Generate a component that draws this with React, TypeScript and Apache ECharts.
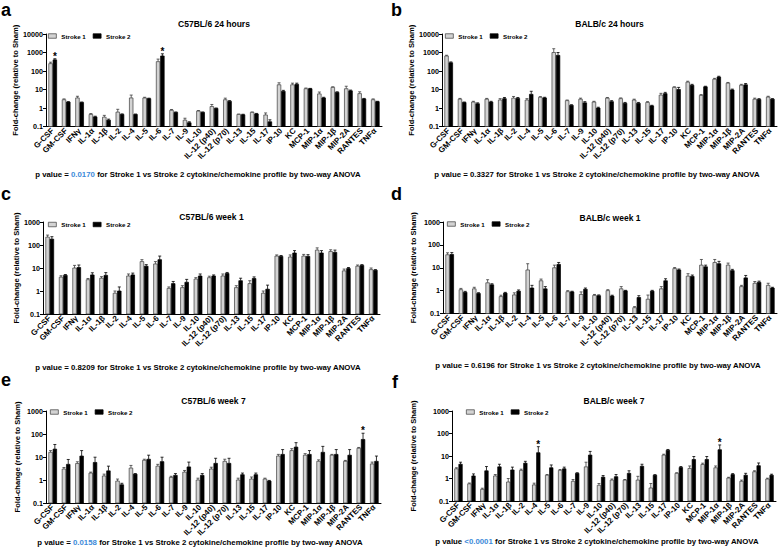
import React, { useEffect, useRef } from 'react';
import * as echarts from 'echarts';

const categories = ['G-CSF', 'GM-CSF', 'IFNγ', 'IL-1α', 'IL-1β', 'IL-2', 'IL-4', 'IL-5', 'IL-6', 'IL-7', 'IL-9', 'IL-10', 'IL-12 (p40)', 'IL-12 (p70)', 'IL-13', 'IL-15', 'IL-17', 'IP-10', 'KC', 'MCP-1', 'MIP-1α', 'MIP-1β', 'MIP-2A', 'RANTES', 'TNFα'];
const seriesNames = ['Stroke 1', 'Stroke 2'];
const panelTitles = ['C57BL/6 24 hours', 'BALB/c 24 hours', 'C57BL/6 week 1', 'BALB/c week 1', 'C57BL/6 week 7', 'BALB/c week 7'];
const panelLetters = ['a', 'b', 'c', 'd', 'e', 'f'];
const pPrefix = ['p value = ', 'p value = ', 'p value = ', 'p value = ', 'p value = ', 'p value '];
const pValues = ['0.0170', '0.3327', '0.8209', '0.6196', '0.0158', '<0.0001'];
const pSignificant = [true, false, false, false, true, true];
const yAxisMax = [10000, 10000, 1000, 1000, 1000, 1000];
const yAxisMin = 0.1;
const yAxisName = 'Fold-change (relative to Sham)';

// a: C57BL/6 24 hours
const aStroke1 = [250, 2.8, 3.5, 0.45, 0.32, 0.6, 3.5, 3.5, 320, 0.75, 0.22, 0.68, 1.2, 2.8, 0.45, 0.58, 0.42, 18, 18, 11, 5.8, 13, 11, 6, 2.8];
const aStroke1Err = [50, 0.3, 0.8, 0.05, 0.08, 0.25, 1.5, 0.3, 120, 0.08, 0.06, 0.05, 0.35, 0.6, 0.02, 0.03, 0.12, 5, 4, 1, 1.5, 1, 4, 1.5, 0.3];
const aStroke2 = [400, 2.1, 2.0, 0.33, 0.22, 0.45, 0.45, 3.2, 650, 0.58, 0.16, 0.58, 0.95, 2.3, 0.43, 0.48, 0.18, 8, 19, 11, 3.5, 7, 8.5, 3.1, 2.2];
const aStroke2Err = [60, 0.1, 0.1, 0.03, 0.03, 0.03, 0.02, 0.2, 200, 0.03, 0.02, 0.03, 0.05, 0.2, 0.03, 0.03, 0.05, 1, 3, 0.5, 0.3, 0.5, 0.8, 0.2, 0.1];
const aStroke2Stars = ['G-CSF', 'IL-6'];

// b: BALB/c 24 hours
const bStroke1 = [650, 3.0, 2.1, 3.0, 2.7, 3.4, 2.7, 3.8, 1000, 2.5, 3.0, 2.1, 3.4, 3.2, 2.7, 2.0, 5.0, 13, 25, 4.8, 36, 22, 17, 3.0, 3.9];
const bStroke1Err = [60, 0.3, 0.2, 0.3, 0.5, 0.8, 0.5, 0.3, 600, 0.2, 0.4, 0.2, 0.3, 0.3, 0.3, 0.2, 1.2, 1, 3, 0.5, 4, 2, 2, 0.4, 0.4];
const bStroke2 = [280, 2.0, 1.7, 2.1, 3.2, 3.3, 5.5, 3.5, 700, 1.4, 1.9, 1.0, 2.2, 1.8, 1.8, 1.3, 6.0, 10, 17, 14, 47, 9.5, 18, 2.9, 3.0];
const bStroke2Err = [30, 0.1, 0.2, 0.2, 0.5, 0.4, 2.5, 0.3, 300, 0.1, 0.3, 0.1, 0.3, 0.2, 0.2, 0.1, 1, 3, 2, 1, 5, 1, 3, 0.3, 0.2];
const bStroke2Stars: string[] = [];

// c: C57BL/6 week 1
const cStroke1 = [220, 4.0, 10, 3.1, 3.6, 0.8, 4.5, 19, 15, 1.3, 1.4, 3.3, 3.8, 4.5, 1.4, 2.1, 0.8, 33, 30, 33, 60, 52, 7.5, 12, 8.5];
const cStroke1Err = [50, 0.6, 3, 0.4, 0.6, 0.2, 1, 4, 4, 0.2, 0.3, 0.5, 0.6, 1, 0.3, 0.7, 0.2, 4, 7, 6, 15, 10, 1.5, 1.5, 1.5];
const cStroke2 = [180, 4.8, 10.5, 5.0, 4.8, 1.0, 5.0, 12, 23, 2.1, 2.4, 4.5, 4.5, 5.8, 2.8, 3.5, 1.2, 32, 45, 32, 45, 48, 9.5, 13, 8.0];
const cStroke2Err = [50, 0.4, 3, 1.2, 1.5, 0.5, 1, 2, 10, 0.5, 0.8, 1, 0.5, 0.6, 0.8, 0.6, 0.6, 3, 12, 6, 12, 12, 1, 1, 0.5];
const cStroke2Stars: string[] = [];

// d: BALB/c week 1
const dStroke1 = [37, 1.1, 1.2, 2.2, 0.55, 0.65, 8.0, 2.7, 10, 0.9, 0.68, 0.62, 1.0, 1.2, 0.18, 0.42, 1.2, 9.2, 4.3, 13, 17, 13, 1.5, 2.1, 1.7];
const dStroke1Err = [8, 0.15, 0.2, 0.8, 0.08, 0.15, 7, 0.5, 3, 0.1, 0.2, 0.06, 0.1, 0.3, 0.02, 0.22, 0.3, 1, 1.2, 10, 6, 3, 0.2, 0.4, 0.4];
const dStroke2 = [38, 0.85, 0.75, 1.8, 0.78, 0.95, 1.3, 1.2, 14, 0.88, 1.15, 0.6, 0.58, 0.98, 0.5, 0.95, 2.7, 8.0, 4.2, 11, 15, 7.5, 3.6, 2.3, 1.3];
const dStroke2Err = [8, 0.08, 0.06, 0.2, 0.06, 0.12, 0.4, 0.3, 3, 0.06, 0.15, 0.05, 0.05, 0.05, 0.1, 0.08, 0.6, 0.8, 0.6, 2, 4, 1, 1, 0.3, 0.1];
const dStroke2Stars: string[] = [];

// e: C57BL/6 week 7
const eStroke1 = [16, 3.0, 5.2, 2.0, 1.5, 0.9, 3.3, 7.2, 4.0, 1.3, 2.2, 1.0, 3.0, 6.5, 1.0, 1.1, 1.1, 11, 19, 12, 6.5, 12, 6.5, 24, 5.0];
const eStroke1Err = [3, 0.5, 1, 0.2, 0.3, 0.2, 1, 0.8, 0.8, 0.15, 0.4, 0.2, 0.6, 1.5, 0.2, 0.25, 0.1, 2, 4, 2, 1, 1, 0.6, 2, 1];
const eStroke2 = [22, 4.8, 11, 5.8, 2.5, 0.62, 1.8, 8.0, 6.3, 1.6, 3.7, 1.6, 5.3, 5.3, 1.7, 1.7, 0.9, 13, 27, 13, 16, 13, 12, 58, 6.5];
const eStroke2Err = [13, 3, 8, 4, 1.5, 0.1, 0.1, 4, 3.5, 0.3, 2.3, 0.3, 3.5, 3.5, 0.3, 0.3, 0.06, 8, 15, 6, 13, 8, 9, 50, 4.5];
const eStroke2Stars = ['RANTES'];

// f: BALB/c week 7
const fStroke1 = [2.7, 0.58, 0.33, 1.3, 0.7, 2.3, 0.52, 1.4, 2.3, 0.75, 3.3, 0.5, 0.85, 0.85, 0.85, 0.38, 11, 1.7, 2.8, 4.2, 3.0, 1.05, 0.75, 2.0, 0.95];
const fStroke1Err = [0.3, 0.05, 0.04, 0.2, 0.3, 0.3, 0.1, 0.1, 0.2, 0.15, 2, 0.1, 0.1, 0.05, 0.4, 0.22, 1, 0.1, 0.8, 0.6, 0.6, 0.08, 0.1, 0.2, 0.08];
const fStroke2 = [4.3, 1.3, 2.2, 3.3, 2.4, 4.8, 14, 3.0, 2.7, 1.7, 11, 1.15, 1.2, 1.7, 3.5, 1.4, 18, 3.1, 7.0, 7.0, 19, 1.5, 1.4, 3.7, 1.4];
const fStroke2Err = [1, 0.3, 1.2, 1, 0.8, 1, 12, 1, 0.5, 0.1, 5, 0.2, 0.3, 0.5, 0.8, 0.08, 1.5, 0.3, 2.5, 2.5, 12, 0.15, 0.3, 1.2, 0.15];
const fStroke2Stars = ['IL-4', 'MIP-1α'];

const panels = [
  { s1: aStroke1, e1: aStroke1Err, s2: aStroke2, e2: aStroke2Err, stars2: aStroke2Stars },
  { s1: bStroke1, e1: bStroke1Err, s2: bStroke2, e2: bStroke2Err, stars2: bStroke2Stars },
  { s1: cStroke1, e1: cStroke1Err, s2: cStroke2, e2: cStroke2Err, stars2: cStroke2Stars },
  { s1: dStroke1, e1: dStroke1Err, s2: dStroke2, e2: dStroke2Err, stars2: dStroke2Stars },
  { s1: eStroke1, e1: eStroke1Err, s2: eStroke2, e2: eStroke2Err, stars2: eStroke2Stars },
  { s1: fStroke1, e1: fStroke1Err, s2: fStroke2, e2: fStroke2Err, stars2: fStroke2Stars },
];

// layout (pixels)
const FONT = '"Liberation Sans", Arial, Helvetica, sans-serif';
const gridBoxes = [
  { left: 46, top: 34, right: 382, bottom: 126.5 },
  { left: 442, top: 34, right: 777, bottom: 126.5 },
  { left: 43, top: 222, right: 380, bottom: 314 },
  { left: 443, top: 222, right: 777, bottom: 313.5 },
  { left: 46, top: 411, right: 381, bottom: 503 },
  { left: 452, top: 411, right: 776, bottom: 501 },
];
const nameGaps = [26, 23.5, 23, 25.5, 24.5, 34.5];
const letterPos = [[1, 9.6], [391, 9.6], [1, 194], [391, 194], [1, 380], [392, 382]];
const titleY = [24, 24, 217, 218, 401, 401];
const pPos = [[198, 174], [597, 174], [198, 367], [598, 365], [200, 542], [597, 541]];
const legendPos = [[48, 33], [445, 33], [48, 221.5], [447, 221], [50, 409], [466, 409]];

const S1_FILL = '#d3d3d3';
const S1_STROKE = '#3c3c3c';
const S2_FILL = '#000000';
const S2_STROKE = '#000000';

function makeRender(s: number) {
  return (params: any, api: any) => {
    const i = api.value(0);
    const v = api.value(1);
    const e = api.value(2);
    const star = api.value(3);
    const p0 = api.coord([i, v]);
    const pb = api.coord([i, yAxisMin]);
    const pe = api.coord([i, v + e]);
    const w = api.coord([1, 1])[0] - api.coord([0, 1])[0];
    const bw = w * 0.32;
    const x0 = p0[0] - (s === 0 ? bw : 0);
    const cx = x0 + bw / 2;
    const cap = bw * 0.35;
    const fill = s === 0 ? S1_FILL : S2_FILL;
    const stroke = s === 0 ? S1_STROKE : S2_STROKE;
    const children: any[] = [
      { type: 'line', shape: { x1: cx, y1: p0[1], x2: cx, y2: pe[1] }, style: { stroke, lineWidth: 0.8 } },
      { type: 'line', shape: { x1: cx - cap, y1: pe[1], x2: cx + cap, y2: pe[1] }, style: { stroke, lineWidth: 0.8 } },
      { type: 'rect', shape: { x: x0 + 0.35, y: p0[1], width: bw - 0.7, height: pb[1] - p0[1] }, style: { fill, stroke, lineWidth: 0.7 } },
    ];
    if (star) {
      children.push({
        type: 'text',
        style: {
          text: '*', x: cx, y: pe[1] + 2.5,
          align: 'center', textAlign: 'center', verticalAlign: 'bottom', textVerticalAlign: 'bottom',
          fontSize: 10, fontWeight: 'bold', fontFamily: FONT, fill: '#000',
        },
      });
    }
    return { type: 'group', children };
  };
}

function buildOption() {
  const grid: any[] = [];
  const xAxis: any[] = [];
  const yAxis: any[] = [];
  const series: any[] = [];
  const legend: any[] = [];
  const graphic: any[] = [];

  panels.forEach((p, k) => {
    const g = gridBoxes[k];
    grid.push({ left: g.left, top: g.top, width: g.right - g.left, height: g.bottom - g.top, containLabel: false });
    xAxis.push({
      type: 'category', gridIndex: k, data: categories,
      axisLine: { show: true, lineStyle: { color: '#000', width: 1 } },
      axisTick: { show: false },
      axisLabel: { interval: 0, rotate: 45, margin: 3, fontSize: 8, fontWeight: 'bold', fontFamily: FONT, color: '#000', hideOverlap: false },
      splitLine: { show: false },
    });
    yAxis.push({
      type: 'log', logBase: 10, gridIndex: k, min: yAxisMin, max: yAxisMax[k],
      axisLine: { show: true, lineStyle: { color: '#000', width: 1 } },
      axisTick: { show: true, length: 3, lineStyle: { color: '#000' } },
      axisLabel: {
        margin: 3, fontSize: 7.2, fontWeight: 'bold', fontFamily: FONT, color: '#000',
        formatter: (v: number) => (v < 1 ? v.toFixed(1) : String(Math.round(v))),
      },
      splitLine: { show: false },
      name: yAxisName, nameLocation: 'middle', nameRotate: 90, nameGap: nameGaps[k],
      nameTextStyle: { fontSize: 7.6, fontWeight: 'bold', fontFamily: FONT, color: '#000' },
    });
    const sets = [
      { vals: p.s1, errs: p.e1, stars: [] as string[] },
      { vals: p.s2, errs: p.e2, stars: p.stars2 },
    ];
    sets.forEach((set, s) => {
      series.push({
        type: 'custom', name: seriesNames[s], xAxisIndex: k, yAxisIndex: k,
        renderItem: makeRender(s),
        encode: { x: 0, y: 1 },
        itemStyle: { color: s === 0 ? S1_FILL : S2_FILL, borderColor: s === 0 ? S1_STROKE : S2_STROKE, borderWidth: 0.7 },
        data: set.vals.map((v, i) => [i, v, set.errs[i], set.stars.includes(categories[i]) ? 1 : 0]),
        clip: false,
      });
    });
    legend.push({
      left: legendPos[k][0], top: legendPos[k][1], orient: 'horizontal', padding: 0,
      itemWidth: 8, itemHeight: 4.5, itemGap: 7, selectedMode: false,
      textStyle: { fontSize: 6.2, fontWeight: 'bold', fontFamily: FONT, color: '#000' },
      data: [
        { name: seriesNames[0], icon: 'rect', itemStyle: { color: S1_FILL, borderColor: S1_STROKE, borderWidth: 0.7 } },
        { name: seriesNames[1], icon: 'rect', itemStyle: { color: S2_FILL, borderColor: S2_STROKE, borderWidth: 0.7 } },
      ],
    });
    // panel letter
    graphic.push({
      type: 'text',
      style: {
        text: panelLetters[k], x: letterPos[k][0], y: letterPos[k][1],
        align: 'left', textAlign: 'left', verticalAlign: 'middle', textVerticalAlign: 'middle',
        fontSize: 18, fontWeight: 'bold', fontFamily: FONT, fill: '#000',
      },
    });
    // title
    graphic.push({
      type: 'text',
      style: {
        text: panelTitles[k], x: (g.left + g.right) / 2, y: titleY[k],
        align: 'center', textAlign: 'center', verticalAlign: 'middle', textVerticalAlign: 'middle',
        fontSize: 8.5, fontWeight: 'bold', fontFamily: FONT, fill: '#000',
      },
    });
    // p value
    const base = { fontSize: 7.8, fontWeight: 'bold', fontFamily: FONT };
    graphic.push({
      type: 'text',
      style: {
        text: `{n|${pPrefix[k]}}{v|${pValues[k]}}{n| for Stroke 1 vs Stroke 2 cytokine/chemokine profile by two-way ANOVA}`,
        x: pPos[k][0], y: pPos[k][1],
        align: 'center', textAlign: 'center', verticalAlign: 'middle', textVerticalAlign: 'middle',
        fontSize: 7.8, fontWeight: 'bold', fontFamily: FONT, fill: '#000',
        rich: {
          n: { ...base, color: '#000', fill: '#000' },
          v: { ...base, color: pSignificant[k] ? '#3b8ad9' : '#000', fill: pSignificant[k] ? '#3b8ad9' : '#000' },
        },
      },
    });
  });

  return {
    animation: false,
    backgroundColor: '#ffffff',
    grid, xAxis, yAxis, series, legend, graphic,
  };
}

export default function App() {
  const ref = useRef<HTMLDivElement>(null);
  useEffect(() => {
    document.body.style.margin = '0';
    const chart = echarts.init(ref.current as HTMLDivElement, null, { renderer: 'svg', width: 778, height: 552 });
    chart.setOption(buildOption() as any);
    return () => chart.dispose();
  }, []);
  return <div ref={ref} style={{ width: 778, height: 552, background: '#fff' }} />;
}
